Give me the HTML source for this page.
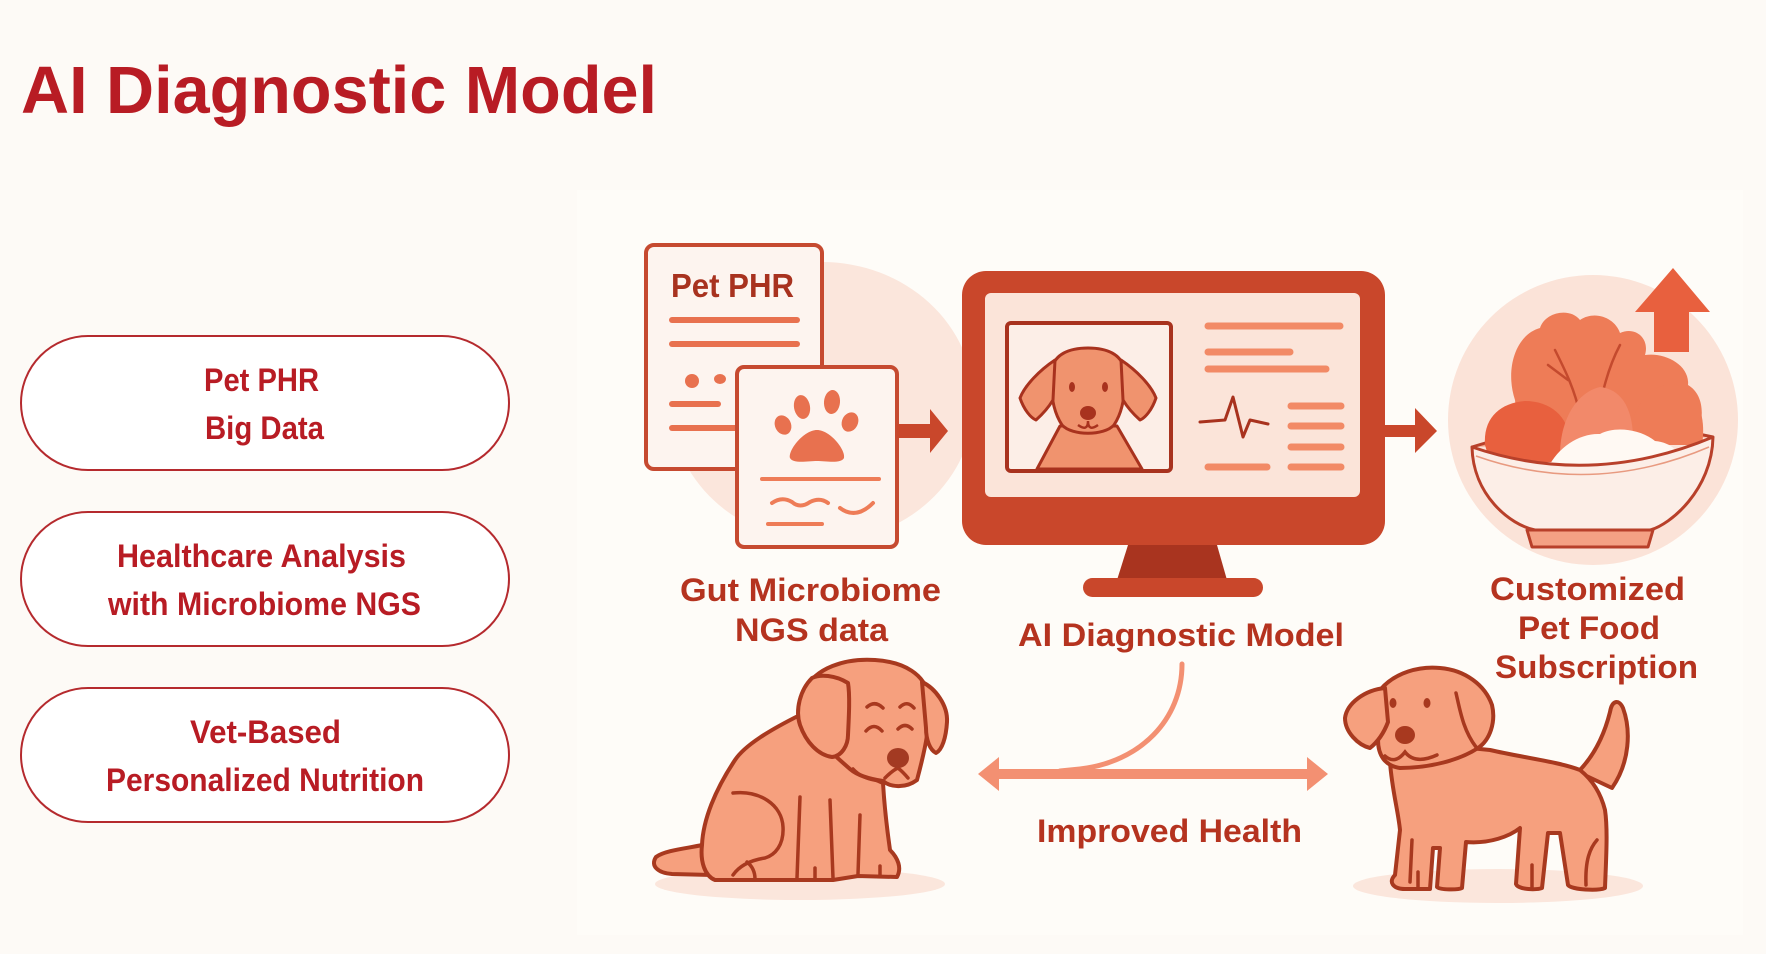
<!DOCTYPE html>
<html>
<head>
<meta charset="utf-8">
<style>
  html,body{margin:0;padding:0;background:#FDFAF6;}
  svg{display:block;}
  text{font-family:"Liberation Sans", Arial, sans-serif;font-weight:bold;}
</style>
</head>
<body>
<svg width="1766" height="954" viewBox="0 0 1766 954" xmlns="http://www.w3.org/2000/svg">
  <rect x="0" y="0" width="1766" height="954" fill="#FDFAF6"/>
  <rect x="577" y="190" width="1166" height="745" fill="#FEFCF8"/>

  <!-- Title -->
  <text x="21" y="113" font-size="67" fill="#B81C24" textLength="636" lengthAdjust="spacingAndGlyphs">AI Diagnostic Model</text>

  <!-- Pills -->
  <g fill="#FFFFFF" stroke="#B52A2E" stroke-width="2">
    <rect x="21" y="336" width="488" height="134" rx="67"/>
    <rect x="21" y="512" width="488" height="134" rx="67"/>
    <rect x="21" y="688" width="488" height="134" rx="67"/>
  </g>
  <g font-size="32" fill="#B81C24">
    <text x="204" y="391" textLength="115" lengthAdjust="spacingAndGlyphs">Pet PHR</text>
    <text x="205" y="439" textLength="119" lengthAdjust="spacingAndGlyphs">Big Data</text>
    <text x="117" y="567" textLength="289" lengthAdjust="spacingAndGlyphs">Healthcare Analysis</text>
    <text x="108" y="615" textLength="313" lengthAdjust="spacingAndGlyphs">with Microbiome NGS</text>
    <text x="190" y="743" textLength="151" lengthAdjust="spacingAndGlyphs">Vet-Based</text>
    <text x="106" y="791" textLength="318" lengthAdjust="spacingAndGlyphs">Personalized Nutrition</text>
  </g>

  <!-- Blob behind documents -->
  <ellipse cx="822" cy="402" rx="152" ry="140" fill="#FBE6DC"/>

  <!-- Doc 1 -->
  <rect x="646" y="245" width="176" height="224" rx="8" fill="#FDF4EF" stroke="#C64A30" stroke-width="4"/>
  <text x="671" y="297" font-size="33" fill="#A8321F" textLength="123" lengthAdjust="spacingAndGlyphs">Pet PHR</text>
  <g stroke="#E8714F" stroke-width="6" stroke-linecap="round">
    <line x1="672" y1="320" x2="797" y2="320"/>
    <line x1="672" y1="344" x2="797" y2="344"/>
    <line x1="672" y1="404" x2="718" y2="404"/>
    <line x1="672" y1="428" x2="737" y2="428"/>
  </g>
  <circle cx="692" cy="381" r="7" fill="#E8714F"/>
  <ellipse cx="720" cy="379" rx="6" ry="5" fill="#E8714F"/>

  <!-- Doc 2 -->
  <rect x="737" y="367" width="160" height="180" rx="7" fill="#FDF4EF" stroke="#C64A30" stroke-width="4"/>
  <g fill="#E8714F">
    <ellipse cx="802" cy="407" rx="8" ry="12" transform="rotate(-10 802 407)"/>
    <ellipse cx="832" cy="402" rx="8" ry="12" transform="rotate(5 832 402)"/>
    <ellipse cx="783" cy="425" rx="8" ry="10" transform="rotate(-25 783 425)"/>
    <ellipse cx="850" cy="422" rx="8" ry="10" transform="rotate(25 850 422)"/>
    <path d="M 817 430 C 830 430, 846 450, 844 458 C 841 464, 826 461, 817 461 C 808 461, 793 464, 790 458 C 788 450, 804 430, 817 430 Z"/>
  </g>
  <g stroke="#EE7C57" stroke-width="4" stroke-linecap="round" fill="none">
    <line x1="762" y1="479" x2="879" y2="479"/>
    <path d="M 772 503 Q 782 496 792 502 Q 800 509 810 502 Q 820 497 828 503"/>
    <path d="M 840 508 Q 856 520 873 503"/>
    <line x1="768" y1="524" x2="822" y2="524"/>
  </g>

  <!-- Arrow doc -> monitor -->
  <rect x="897" y="424" width="35" height="14" fill="#C9472B"/>
  <polygon points="930,409 948,431 930,453" fill="#C9472B"/>

  <!-- Monitor -->
  <rect x="962" y="271" width="423" height="274" rx="24" fill="#C9472B"/>
  <rect x="985" y="293" width="375" height="204" rx="6" fill="#FBE4D9"/>
  <polygon points="1128,545 1217,545 1227,580 1117,580" fill="#A9341F"/>
  <rect x="1083" y="578" width="180" height="19" rx="9.5" fill="#C9472B"/>
  <rect x="1007" y="323" width="164" height="148" rx="4" fill="#FCEEE7" stroke="#A8321E" stroke-width="4"/>
  <!-- screen dog -->
  <g fill="#F0936E" stroke="#A8321E" stroke-width="3" stroke-linejoin="round">
    <path d="M 1060 426 L 1037 469 L 1142 469 L 1117 426 Z"/>
    <path d="M 1088 348 C 1068 348, 1055 355, 1052 368 C 1050 390, 1052 410, 1062 425 C 1072 436, 1104 436, 1114 425 C 1124 410, 1126 390, 1124 368 C 1121 355, 1108 348, 1088 348 Z"/>
    <path d="M 1055 360 C 1040 370, 1025 385, 1020 398 C 1024 410, 1031 418, 1036 420 C 1045 412, 1050 405, 1053 400 Z"/>
    <path d="M 1121 360 C 1136 370, 1151 385, 1156 398 C 1152 410, 1145 418, 1140 420 C 1131 412, 1126 405, 1123 400 Z"/>
  </g>
  <g fill="#A8321E">
    <ellipse cx="1072" cy="387" rx="3" ry="5"/>
    <ellipse cx="1105" cy="387" rx="3" ry="5"/>
    <ellipse cx="1088" cy="413" rx="8" ry="7"/>
  </g>
  <path d="M 1078 425 Q 1088 432 1088 421 Q 1088 432 1098 425" fill="none" stroke="#A8321E" stroke-width="2.5"/>
  <g stroke="#F28A66" stroke-width="7" stroke-linecap="round">
    <line x1="1208" y1="326" x2="1340" y2="326"/>
    <line x1="1208" y1="352" x2="1290" y2="352"/>
    <line x1="1208" y1="369" x2="1326" y2="369"/>
    <line x1="1291" y1="406" x2="1341" y2="406"/>
    <line x1="1291" y1="426" x2="1341" y2="426"/>
    <line x1="1291" y1="447" x2="1341" y2="447"/>
    <line x1="1291" y1="467" x2="1341" y2="467"/>
    <line x1="1208" y1="467" x2="1267" y2="467"/>
  </g>
  <path d="M 1200 422 L 1225 420 L 1233 397 L 1243 437 L 1250 420 L 1268 424" fill="none" stroke="#A8321E" stroke-width="3" stroke-linejoin="round" stroke-linecap="round"/>

  <!-- Arrow monitor -> bowl -->
  <rect x="1385" y="425" width="33" height="12" fill="#C9472B"/>
  <polygon points="1415,408 1437,431 1415,453" fill="#C9472B"/>

  <!-- Food circle -->
  <circle cx="1593" cy="420" r="145" fill="#FBE3D8"/>
  <polygon points="1673,268 1710,312 1689,312 1689,352 1654,352 1654,312 1635,312" fill="#E8603E"/>
  <!-- rim back -->
  <path d="M 1472 447 Q 1590 410 1713 437" fill="#F4A184" stroke="#B8402A" stroke-width="3"/>
  <!-- food -->
  <path d="M 1515 400 C 1505 370, 1515 335, 1540 328 C 1545 312, 1570 307, 1580 320 C 1595 310, 1615 318, 1620 333 C 1635 326, 1650 338, 1645 355 C 1665 352, 1690 365, 1688 385 C 1705 395, 1705 420, 1695 440 L 1520 445 Z" fill="#EE7C57"/>
  <g stroke="#C44A2E" stroke-width="2.5" fill="none" stroke-linecap="round">
    <path d="M 1580 415 C 1575 390, 1565 370, 1555 350"/>
    <path d="M 1568 380 L 1548 365"/>
    <path d="M 1600 405 C 1605 380, 1612 360, 1620 345"/>
    <path d="M 1650 420 C 1655 405, 1662 395, 1672 388"/>
  </g>
  <path d="M 1630 445 C 1628 400, 1660 378, 1680 386 C 1700 396, 1706 420, 1702 445 Z" fill="#EE7C57"/>
  <path d="M 1485 445 C 1483 418, 1500 403, 1525 401 C 1550 401, 1568 416, 1570 440 L 1570 462 L 1490 462 Z" fill="#E8603E"/>
  <path d="M 1560 455 C 1560 422, 1575 393, 1600 387 C 1620 389, 1632 406, 1633 436 L 1633 456 Z" fill="#F2896A"/>
  <path d="M 1548 468 C 1558 447, 1580 433, 1600 434 C 1615 426, 1640 429, 1655 441 C 1675 443, 1683 456, 1680 468 Z" fill="#FFF9F3"/>
  <!-- bowl front -->
  <path d="M 1472 447 Q 1592 488 1713 437 C 1712 490, 1670 525, 1650 530 L 1535 530 C 1510 525, 1473 495, 1472 447 Z" fill="#FCEEE7" stroke="#B8402A" stroke-width="3" stroke-linejoin="round"/>
  <path d="M 1476 456 Q 1592 497 1709 447" fill="none" stroke="#E89A80" stroke-width="1.5"/>
  <path d="M 1527 530 L 1653 530 L 1648 547 L 1532 547 Z" fill="#F4A184" stroke="#B8402A" stroke-width="3" stroke-linejoin="round"/>

  <!-- Labels -->
  <g font-size="32" fill="#B5331F">
    <text x="680" y="601" textLength="261" lengthAdjust="spacingAndGlyphs">Gut Microbiome</text>
    <text x="735" y="641" textLength="153" lengthAdjust="spacingAndGlyphs">NGS data</text>
    <text x="1018" y="646" textLength="326" lengthAdjust="spacingAndGlyphs">AI Diagnostic Model</text>
    <text x="1490" y="600" textLength="195" lengthAdjust="spacingAndGlyphs">Customized</text>
    <text x="1518" y="639" textLength="142" lengthAdjust="spacingAndGlyphs">Pet Food</text>
    <text x="1495" y="678" textLength="203" lengthAdjust="spacingAndGlyphs">Subscription</text>
    <text x="1037" y="842" textLength="265" lengthAdjust="spacingAndGlyphs">Improved Health</text>
  </g>

  <!-- Improved health arrow -->
  <path d="M 1182 664 C 1182 720, 1140 762, 1080 769 L 1060 771" fill="none" stroke="#F39072" stroke-width="5" stroke-linecap="round"/>
  <rect x="997" y="769" width="312" height="10" fill="#F39072"/>
  <polygon points="978,774 999,757 999,791" fill="#F39072"/>
  <polygon points="1328,774 1307,757 1307,791" fill="#F39072"/>

  <!-- Shadows -->
  <ellipse cx="800" cy="884" rx="145" ry="16" fill="#FBE6DC"/>
  <ellipse cx="1498" cy="886" rx="145" ry="17" fill="#FBE6DC"/>

  <!-- Sad dog -->
  <g fill="#F6A07E" stroke="#A8391F" stroke-width="4" stroke-linejoin="round" stroke-linecap="round">
    <path d="M 702 845 C 690 848, 665 850, 656 857 C 650 866, 658 873, 672 874 L 712 875 Z"/>
    <path d="M 800 715 C 770 730, 745 745, 735 760 C 715 790, 703 820, 702 845 C 700 862, 705 876, 715 880 L 770 880 L 797 880 L 833 880 L 858 876 L 897 877 C 902 868, 898 858, 890 850 C 886 822, 884 800, 883 783 L 850 768 Z"/>
    <path d="M 805 690 C 815 668, 845 658, 875 660 C 905 662, 925 675, 928 695 C 932 720, 925 750, 917 780 C 905 789, 890 787, 883 781 C 870 779, 858 776, 850 769 C 835 756, 818 741, 810 726 C 803 713, 800 701, 805 690 Z"/>
    <path d="M 812 678 C 800 690, 795 710, 800 725 C 806 742, 818 755, 832 757 C 842 756, 848 745, 848 735 C 849 715, 850 695, 848 683 C 835 675, 820 674, 812 678 Z"/>
    <path d="M 922 682 C 935 688, 948 705, 947 722 C 946 738, 942 750, 936 753 C 930 750, 926 740, 926 728 Z"/>
  </g>
  <g fill="none" stroke="#A8391F" stroke-width="3.5" stroke-linecap="round">
    <path d="M 867 707 Q 875 700 883 708"/>
    <path d="M 900 707 Q 907 700 914 708"/>
    <path d="M 866 731 Q 874 722 882 731"/>
    <path d="M 898 729 Q 905 722 912 729"/>
    <path d="M 885 778 Q 893 770 898 768 Q 903 772 908 778"/>
    <path d="M 853 769 Q 862 779 880 781"/>
    <path d="M 800 797 L 797 878"/>
    <path d="M 830 800 L 833 878"/>
    <path d="M 860 815 L 858 874"/>
    <path d="M 733 793 C 760 790, 782 805, 783 827 C 784 845, 775 855, 765 858 C 752 860, 740 865, 733 875"/>
    <path d="M 747 862 C 752 866, 755 872, 755 879"/>
    <path d="M 815 868 L 815 879"/>
    <path d="M 880 866 L 880 876"/>
  </g>
  <ellipse cx="898" cy="758" rx="11" ry="10" fill="#A33A22"/>

  <!-- Happy dog -->
  <g fill="#F6A07E" stroke="#A8391F" stroke-width="4" stroke-linejoin="round" stroke-linecap="round">
    <path d="M 1578 772 C 1594 756, 1604 736, 1610 712 C 1612 700, 1619 699, 1623 708 C 1631 730, 1630 762, 1612 788 Z"/>
    <path d="M 1390 762 C 1392 790, 1398 810, 1400 830 L 1395 875 C 1388 882, 1393 889, 1405 889 L 1430 889 L 1433 848 L 1440 848 L 1437 887 C 1440 890, 1458 890, 1462 888 L 1466 842 C 1490 844, 1510 836, 1520 828 L 1516 884 C 1518 890, 1538 890, 1542 888 L 1548 833 L 1560 833 L 1568 885 C 1572 890, 1598 891, 1605 888 C 1606 860, 1608 830, 1605 810 C 1600 790, 1590 778, 1580 770 C 1560 762, 1520 757, 1490 750 L 1470 748 Z"/>
    <path d="M 1380 690 C 1395 672, 1420 666, 1440 668 C 1465 670, 1485 685, 1492 705 C 1496 722, 1490 740, 1478 748 C 1460 760, 1430 768, 1400 768 C 1385 766, 1378 755, 1378 740 Z"/>
    <path d="M 1385 688 C 1365 690, 1347 703, 1345 718 C 1345 732, 1358 745, 1370 748 C 1380 740, 1385 730, 1388 722 Z"/>
  </g>
  <g fill="none" stroke="#A8391F" stroke-width="3.5" stroke-linecap="round">
    <path d="M 1456 693 C 1460 710, 1463 730, 1476 747"/>
    <path d="M 1385 756 Q 1395 765 1405 752 Q 1415 765 1437 755"/>
    <path d="M 1412 840 L 1410 882"/>
    <path d="M 1597 840 C 1590 848, 1585 860, 1586 885"/>
    <path d="M 1532 865 L 1532 887"/>
    <path d="M 1418 872 L 1418 887"/>
  </g>
  <g fill="#A8391F">
    <ellipse cx="1393" cy="703" rx="3.5" ry="5"/>
    <ellipse cx="1427" cy="703" rx="3.5" ry="5"/>
    <ellipse cx="1405" cy="735" rx="10" ry="9"/>
  </g>
</svg>
</body>
</html>
